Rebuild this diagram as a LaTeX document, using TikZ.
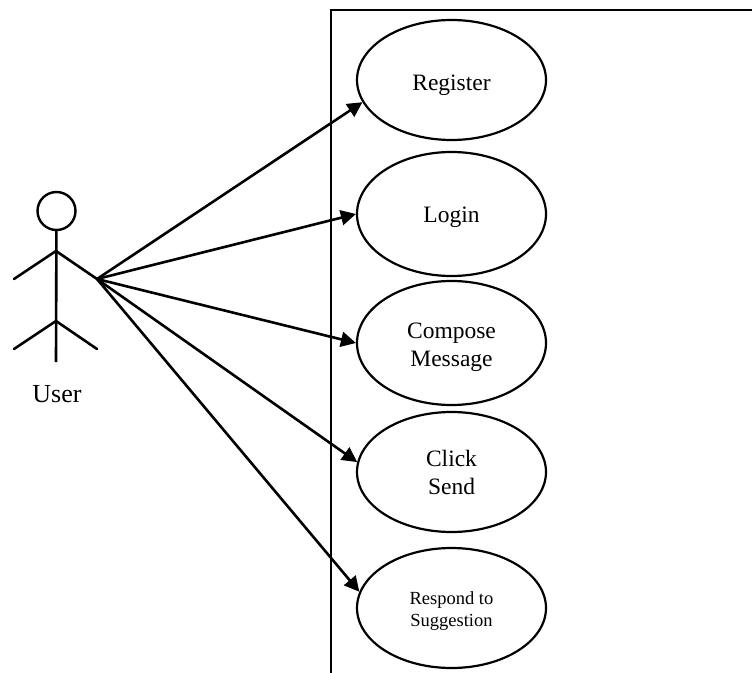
\documentclass[tikz,border=0pt]{standalone}
\usepackage{fontspec}
\setmainfont{Liberation Serif}
\usetikzlibrary{arrows.meta,shapes.geometric}
\newcommand{\lowerby}[1]{\rule{0pt}{#1}}
\tikzset{
 usecase/.style={draw=black,line width=2.2bp,ellipse,minimum width=189bp,minimum height=120bp,inner sep=0pt,align=center,font=\fontsize{23.5bp}{28bp}\selectfont,text=black},
 body/.style={draw=black,line width=2.6bp},
 assoc/.style={draw=black,line width=2.6bp,-{Triangle[length=15bp,width=15bp]}}
}
\begin{document}
\begin{tikzpicture}[x=1bp,y=-1bp]
\useasboundingbox (0,0) rectangle (752,673);
\draw[body] (331,673) -- (331,10) -- (752,10);
\node[usecase] (r) at (451.5,80) {\lowerby{26bp}Register};
\node[usecase,minimum height=124bp] (l) at (451.5,214) {\lowerby{22bp}Login};
\node[usecase,minimum height=124bp] (c) at (451.5,343) {\lowerby{24bp}Compose\\Message};
\node[usecase] (k) at (451.5,472) {\lowerby{18bp}Click\\Send};
\node[usecase,font=\fontsize{18.5bp}{22bp}\selectfont] (s) at (451.5,608) {\lowerby{19bp}Respond to\\Suggestion};
\node[draw=black,line width=2.4bp,circle,minimum size=38bp,inner sep=0pt] (head) at (56.5,211) {};
\coordinate (hip) at (56,321);
\coordinate (hand) at (97,279);
\coordinate (lhand) at (14,279);
\coordinate (lfoot) at (14,349);
\coordinate (rfoot) at (97,349);
\coordinate (base) at (56,362);
\coordinate (shoulder) at (56,251);
\draw[body] (head) -- (base);
\draw[body,line cap=round] (lhand) -- (shoulder) -- (hand);
\draw[body,line cap=round] (lfoot) -- (hip) -- (rfoot);
\node[font=\fontsize{26bp}{30bp}\selectfont,text=black] (u) at (57,394) {User};
\draw[assoc] (hand) -- (r.194);
\draw[assoc] (hand) -- (l.180);
\draw[assoc] (hand) -- (c.180);
\draw[assoc] (hand) -- (k.174.6);
\draw[assoc] (hand) -- (s.170);
\end{tikzpicture}
\end{document}
